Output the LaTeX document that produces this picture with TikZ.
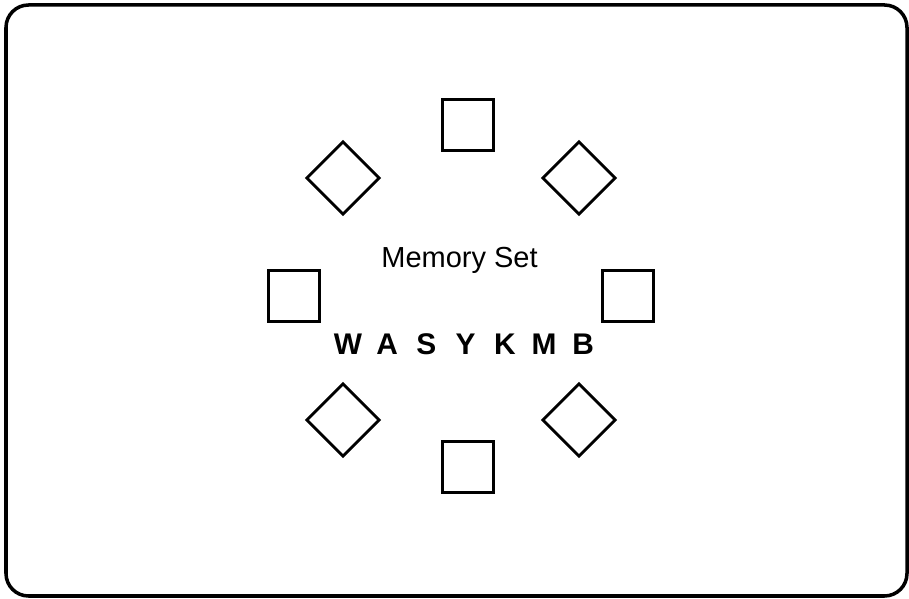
\documentclass[tikz,border=0pt]{standalone}
\usepackage{fontspec}
\setmainfont{Liberation Sans}

\begin{document}
\begin{tikzpicture}[box/.style={draw, line width=1.6pt, minimum size=1.02cm, inner sep=0pt},
		tilted/.style={box, rotate=45}]
				
				\useasboundingbox (0,0) rectangle (18.18,11.98);
				
				% --- Rahmen ---
				\draw[line width=2pt, rounded corners=0.45cm] (0.12,0.06) rectangle (18.14,11.88);
				
				% --- Quadrate ---
				\node[box] (top) at (9.36,9.48) {};
				\node[box] (bottom) at (9.36,2.64) {};
				\node[box] (left) at (5.88,6.06) {};
				\node[box] (right) at (12.56,6.06) {};
				
				% --- Rauten ---
				\node[tilted] (upleft) at (6.86,8.42) {};
				\node[tilted] (upright) at (11.58,8.42) {};
				\node[tilted] (lowleft) at (6.86,3.58) {};
				\node[tilted] (lowright) at (11.58,3.58) {};
				
				% --- Text ---
				\node[anchor=base] (memset) at (9.19,6.62) {\fontsize{16.5}{19}\selectfont Memory Set};
				\foreach \l [count=\i] in {W,A,S,Y,K,M,B}{
					\node[anchor=base, font=\bfseries\fontsize{17}{20}\selectfont] (let\i) at ({6.96+0.784*(\i-1)},4.88) {\l};
				}
				
			\end{tikzpicture}
\end{document}
